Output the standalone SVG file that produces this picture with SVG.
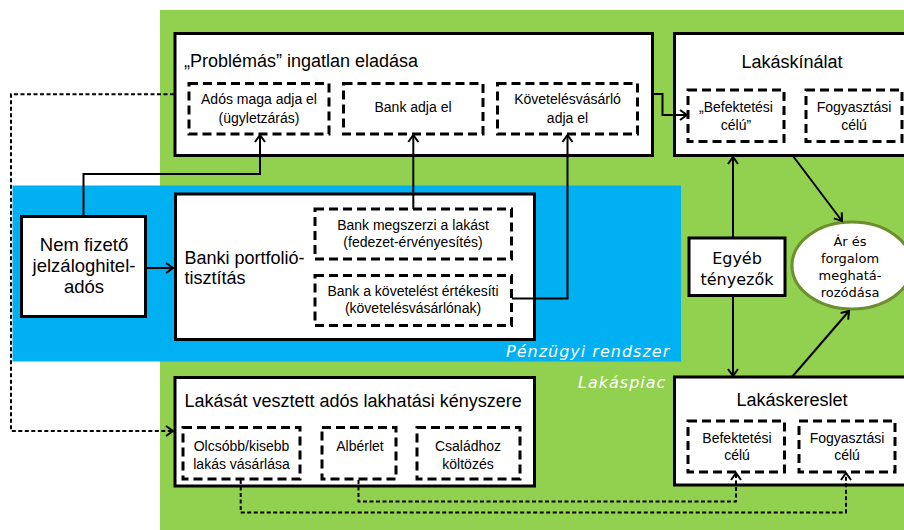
<svg xmlns="http://www.w3.org/2000/svg" width="904" height="530" viewBox="0 0 904 530">
<style>
.box{fill:#fff;stroke:#000;stroke-width:3}
.dbox{fill:none;stroke:#000;stroke-width:3;stroke-dasharray:9 5}
.t{font-family:"Liberation Sans",Arial,sans-serif;fill:#000}
.t18{font-size:18px}
.t14{font-size:14px;text-anchor:middle}
.dv{font-family:"DejaVu Sans",Verdana,sans-serif;fill:#000;text-anchor:middle}
.lab{font-family:"DejaVu Sans",Verdana,sans-serif;font-style:italic;font-size:16px;fill:#fff;letter-spacing:1px}
.c{fill:none;stroke:#000;stroke-width:2;marker-end:url(#ah)}
.cd{fill:none;stroke:#000;stroke-width:2;stroke-dasharray:4 2.5;marker-end:url(#ah)}
</style>
<defs>
<marker id="ah" markerUnits="userSpaceOnUse" markerWidth="12" markerHeight="14" viewBox="-9 -7 12 14" refX="0" refY="0" orient="auto">
<path d="M-7,-5 L0,0 L-7,5" fill="none" stroke="#000" stroke-width="2" stroke-dasharray="none"/>
</marker>
</defs>
<rect id="lakaspiac-bg" x="160" y="10" width="744" height="520" fill="#92D050"/>
<rect id="penzugyi-bg" x="12.5" y="185.5" width="668.5" height="176" fill="#00B0F0"/>
<text class="lab" x="506" y="357">Pénzügyi rendszer</text>
<text class="lab" x="578" y="388">Lakáspiac</text>

<g id="problemas">
<rect class="box" x="175" y="33.5" width="477.5" height="122"/>
<text class="t t18" x="184" y="67">„Problémás” ingatlan eladása</text>
</g>
<g id="ados-maga">
<rect class="dbox" x="189" y="83.5" width="140" height="50.5"/>
<text class="t t14" x="259" y="104">Adós maga adja el</text>
<text class="t t14" x="259" y="122.5">(ügyletzárás)</text>
</g>
<g id="bank-adja">
<rect class="dbox" x="343.5" y="83.5" width="139.5" height="50.5"/>
<text class="t t14" x="413" y="112">Bank adja el</text>
</g>
<g id="kovetelesvasarlo">
<rect class="dbox" x="497.5" y="83.5" width="140" height="50.5"/>
<text class="t t14" x="567.5" y="104">Követelésvásárló</text>
<text class="t t14" x="567.5" y="122.5">adja el</text>
</g>

<g id="lakaskinalat">
<rect class="box" x="674.5" y="33.5" width="240" height="122"/>
<text class="t t18" x="792" y="68" text-anchor="middle">Lakáskínálat</text>
</g>
<g id="kinalat-befektetesi">
<rect class="dbox" x="688" y="90" width="96" height="51.5"/>
<text class="t t14" x="736" y="112">„Befektetési</text>
<text class="t t14" x="736" y="129.5">célú”</text>
</g>
<g id="kinalat-fogyasztasi">
<rect class="dbox" x="806" y="90" width="96" height="51.5"/>
<text class="t t14" x="854" y="112">Fogyasztási</text>
<text class="t t14" x="854" y="129.5">célú</text>
</g>

<g id="nem-fizeto">
<rect class="box" x="21.5" y="216.5" width="124" height="100"/>
<text class="t" font-size="18.5" text-anchor="middle" x="84" y="250.5">Nem fizető</text>
<text class="t" font-size="18.5" text-anchor="middle" x="84" y="271.5">jelzáloghitel-</text>
<text class="t" font-size="18.5" text-anchor="middle" x="84" y="292.5">adós</text>
</g>

<g id="banki">
<rect class="box" x="175.5" y="194" width="359" height="145.5"/>
<text class="t t18" x="184.5" y="263.5">Banki portfolió-</text>
<text class="t t18" x="184.5" y="284">tisztítás</text>
</g>
<g id="bank-megszerzi">
<rect class="dbox" x="315" y="209" width="196.5" height="50"/>
<text class="t t14" x="413" y="229.5">Bank megszerzi a lakást</text>
<text class="t t14" x="413" y="247">(fedezet-érvényesítés)</text>
</g>
<g id="bank-ertekesiti">
<rect class="dbox" x="315" y="275.5" width="196.5" height="50"/>
<text class="t t14" x="413" y="295.5">Bank a követelést értékesíti</text>
<text class="t t14" x="413" y="313">(követelésvásárlónak)</text>
</g>

<g id="egyeb">
<rect class="box" x="689" y="238" width="96" height="57.5"/>
<text class="dv" font-size="16" x="737" y="263.5">Egyéb</text>
<text class="dv" font-size="16" x="737" y="284.5">tényezők</text>
</g>

<g id="ar-es-forgalom">
<ellipse cx="852" cy="265.5" rx="60" ry="43.5" fill="#fff" stroke="#6B8E2E" stroke-width="3"/>
<text class="dv" font-size="13" x="850" y="245.5">Ár és</text>
<text class="dv" font-size="13" x="850" y="262.5">forgalom</text>
<text class="dv" font-size="13" x="850" y="279.5">meghatá-</text>
<text class="dv" font-size="13" x="850" y="297">rozódása</text>
</g>

<g id="lakasat-vesztett">
<rect class="box" x="175" y="377.5" width="359.5" height="108.5"/>
<text class="t t18" x="184.5" y="406.5">Lakását vesztett adós lakhatási kényszere</text>
</g>
<g id="olcsobb">
<rect class="dbox" x="183" y="427.5" width="117" height="51.5"/>
<text class="t t14" x="241.5" y="451">Olcsóbb/kisebb</text>
<text class="t t14" x="241.5" y="468.5">lakás vásárlása</text>
</g>
<g id="alberlet">
<rect class="dbox" x="322" y="427.5" width="74" height="51.5"/>
<text class="t t14" x="360" y="451">Albérlet</text>
</g>
<g id="csaladhoz">
<rect class="dbox" x="417" y="427.5" width="103" height="51.5"/>
<text class="t t14" x="468" y="451">Családhoz</text>
<text class="t t14" x="468" y="468.5">költözés</text>
</g>

<g id="lakaskereslet">
<rect class="box" x="674.5" y="377" width="240" height="108"/>
<text class="t t18" x="792" y="405.5" text-anchor="middle">Lakáskereslet</text>
</g>
<g id="kereslet-befektetesi">
<rect class="dbox" x="688" y="421" width="96.5" height="51"/>
<text class="t t14" x="737" y="442.5">Befektetési</text>
<text class="t t14" x="737" y="460">célú</text>
</g>
<g id="kereslet-fogyasztasi">
<rect class="dbox" x="799" y="421" width="96" height="51"/>
<text class="t t14" x="847" y="442.5">Fogyasztási</text>
<text class="t t14" x="847" y="460">célú</text>
</g>

<g id="connectors">
<polyline class="c" points="83.5,216 83.5,174 260,174 260,135"/>
<line class="c" x1="146" y1="268" x2="173" y2="268"/>
<line class="c" x1="413.3" y1="209" x2="413.3" y2="135"/>
<polyline class="c" points="512,298.5 567.5,298.5 567.5,135"/>
<polyline class="c" points="653,94 662.5,94 662.5,115 687,115"/>
<line class="c" x1="733" y1="237" x2="733" y2="157"/>
<line class="c" x1="733" y1="296" x2="733" y2="376"/>
<line class="c" x1="793" y1="156" x2="842" y2="221"/>
<line class="c" x1="792" y1="377" x2="849" y2="311"/>
<polyline class="cd" points="174,94.3 11,94.3 11,431 173,431"/>
<polyline class="cd" points="240.7,480 240.7,512.5 846,512.5 846,473"/>
<polyline class="cd" points="358.5,480 358.5,501.5 736,501.5 736,473"/>
</g>
</svg>
